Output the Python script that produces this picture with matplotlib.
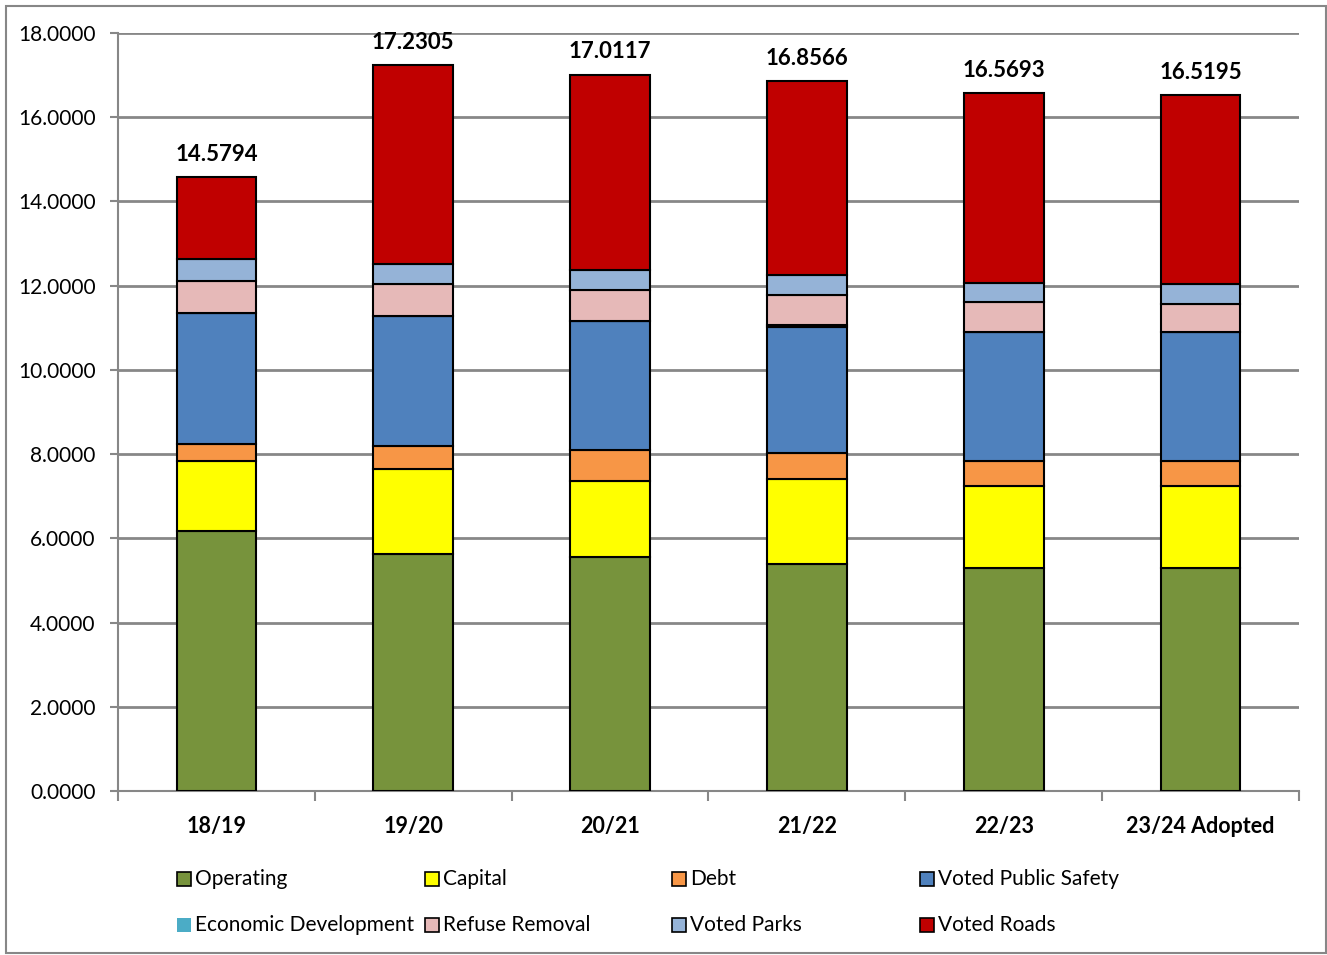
import matplotlib.pyplot as plt
import matplotlib.patches as mpatches
import numpy as np

plt.rcParams['font.family'] = ['Lato', 'DejaVu Sans']

years = ["18/19", "19/20", "20/21", "21/22", "22/23", "23/24 Adopted"]
totals = [14.5794, 17.2305, 17.0117, 16.8566, 16.5693, 16.5195]

operating = [6.174, 5.628, 5.557, 5.390, 5.296, 5.296]
capital = [1.670, 2.026, 1.803, 2.010, 1.954, 1.954]
debt = [0.396, 0.546, 0.738, 0.620, 0.594, 0.594]
public_safety = [3.118, 3.080, 3.052, 3.000, 3.046, 3.046]
econ_dev = [0.0, 0.0, 0.020, 0.040, 0.0, 0.0]
refuse = [0.760, 0.760, 0.727, 0.720, 0.715, 0.675]
parks = [0.508, 0.475, 0.475, 0.480, 0.465, 0.475]
roads = [1.9534, 4.7155, 4.6397, 4.5966, 4.4993, 4.4795]

series = [
    ("Operating", operating, "#77933C"),
    ("Capital", capital, "#FFFF00"),
    ("Debt", debt, "#F79646"),
    ("Voted Public Safety", public_safety, "#4F81BD"),
    ("Economic Development", econ_dev, "#4BACC6"),
    ("Refuse Removal", refuse, "#E6B9B8"),
    ("Voted Parks", parks, "#95B3D7"),
    ("Voted Roads", roads, "#C00000"),
]

fig = plt.figure(figsize=(13.27, 9.55), dpi=100)
ax = fig.add_axes([0.0889, 0.1717, 0.89, 0.7937])

x = np.arange(len(years)) + 0.5
bottom = np.zeros(len(years))
for name, vals, col in series:
    vals = np.array(vals)
    ax.bar(x, vals, width=0.405, bottom=bottom, color=col,
           edgecolor="black", linewidth=1.5, zorder=3)
    bottom += vals

for xi, t in zip(x, totals):
    ax.annotate(f"{t:.4f}", (xi, t), xytext=(0, 9), textcoords="offset points",
                ha="center", va="bottom", fontsize=16, fontweight="bold")

ax.set_xlim(0, 6)
ax.set_ylim(0, 18)
ax.set_yticks(np.arange(0, 18.1, 2))
ax.set_yticklabels([f"{v:.4f}" for v in np.arange(0, 18.1, 2)], fontsize=15)
ax.yaxis.grid(True, color="#878787", linewidth=2, zorder=0)
ax.set_axisbelow(True)

# category ticks at bar centers, tick marks at boundaries
ax.set_xticks(np.arange(0, 7))
ax.set_xticklabels([])
ax.set_xticks(x, minor=True)
ax.set_xticklabels(years, minor=True, fontsize=15.5, fontweight="bold")
ax.tick_params(axis="x", which="minor", length=0, pad=18)
ax.tick_params(axis="x", which="major", length=7, color="#878787", width=1.5)
ax.tick_params(axis="y", length=6, color="#878787", width=1.5, pad=10)

for s in ["top", "right"]:
    ax.spines[s].set_visible(False)
for s in ["left", "bottom"]:
    ax.spines[s].set_color("#878787")
    ax.spines[s].set_linewidth(1.5)

# legend laid out in two rows of four
for i, (name, vals, col) in enumerate(series):
    r, c = divmod(i, 4)
    lx = 0.1335 + c * 0.1866
    ly = 0.0795 - r * 0.048
    edge = "none" if name == "Economic Development" else "black"
    fig.patches.append(mpatches.Rectangle((lx, ly - 0.0075), 0.0105, 0.0146,
                                          facecolor=col, edgecolor=edge,
                                          linewidth=1.2, transform=fig.transFigure))
    fig.text(lx + 0.0135, ly, name, fontsize=15, va="center", ha="left")

fig.patches.append(mpatches.Rectangle((0.0045, 0.002), 0.995, 0.992, fill=False,
                                      edgecolor="#878787", linewidth=1.5,
                                      transform=fig.transFigure))

fig.savefig("out.png", dpi=100)
